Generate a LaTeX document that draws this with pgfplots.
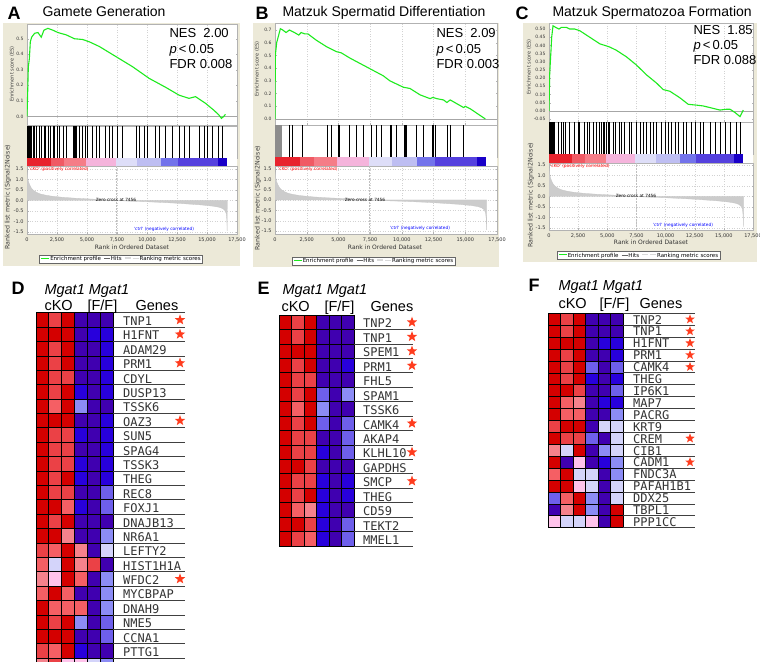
\documentclass[border=0pt]{standalone}
\usepackage{pgfplots}
\pgfplotsset{compat=1.18}
\usepackage{pgfplotstable}
\usepackage{fontspec}
\setmainfont{Liberation Sans}
\newfontfamily\dejavu{DejaVu Sans}
\newfontfamily\mono{DejaVu Sans Mono}
\usetikzlibrary{shapes.geometric}

\definecolor{beige}{RGB}{236,233,216}
\definecolor{esgreen}{RGB}{30,235,30}
\definecolor{starred}{RGB}{255,60,30}
\definecolor{cb1}{RGB}{232,35,45}
\definecolor{cb2}{RGB}{240,90,100}
\definecolor{cb3}{RGB}{245,125,135}
\definecolor{cb4}{RGB}{245,180,220}
\definecolor{cb5}{RGB}{222,222,248}
\definecolor{cb6}{RGB}{190,190,242}
\definecolor{cb7}{RGB}{115,115,235}
\definecolor{cb8}{RGB}{85,65,222}
\definecolor{cb9}{RGB}{25,0,200}

% ---------- data ----------
\pgfplotstableread{
r v
0 0
55 0.15
111 0.32
194 0.37
277 0.48
387 0.51
636 0.535
912 0.54
1189 0.51
1410 0.555
1742 0.567
2157 0.555
2571 0.54
3263 0.525
3954 0.50
4645 0.495
5198 0.48
6028 0.45
7410 0.385
8793 0.32
10175 0.245
11558 0.187
12664 0.137
13493 0.116
14046 0.127
14876 0.084
15567 0.04
15982 0.01
16203 -0.013
16396 0
16535 0.013
}\esA

\pgfplotstableread{
r v
0 0
26 0.5
132 0.6
290 0.66
423 0.71
608 0.70
872 0.68
1136 0.70
1532 0.68
1876 0.66
2060 0.68
2324 0.67
2588 0.67
3249 0.62
4041 0.57
4833 0.53
5229 0.52
5889 0.48
7210 0.41
8530 0.34
9059 0.30
10115 0.25
10643 0.24
11435 0.19
12228 0.16
12439 0.17
12756 0.16
13284 0.15
13548 0.13
13812 0.15
14869 0.09
15001 0.10
15397 0.08
16585 0.0
}\esB

\pgfplotstableread{
r v
0 0
57 0.22
115 0.30
172 0.37
229 0.45
344 0.52
573 0.51
859 0.50
1060 0.51
1489 0.51
1776 0.50
2205 0.50
2635 0.49
3494 0.45
4353 0.41
5212 0.39
5785 0.37
6645 0.33
7504 0.28
8363 0.22
9222 0.17
9795 0.13
10368 0.12
11227 0.08
11943 0.04
12659 0.035
13232 0.03
13805 0.02
14664 0.005
15237 0.01
15523 0.01
15953 -0.01
16382 -0.035
16669 0.005
}\esC

\pgfplotstableread{
r v
0 1.35
50 1.1
120 0.9
220 0.75
350 0.6
500 0.5
750 0.4
1050 0.32
1500 0.26
2000 0.21
3000 0.15
4000 0.11
5000 0.08
6000 0.05
7000 0.02
7456 0
8500 -0.03
10000 -0.06
11500 -0.1
12500 -0.13
13500 -0.17
14500 -0.21
15500 -0.27
16000 -0.32
16300 -0.38
16500 -0.48
16600 -0.62
16650 -0.9
16680 -1.45
16690 0
}\metric

% heatmaps: codes 0 (indigo) ... 9 (dark red)
\pgfplotstableread{
g c0 c1 c2 c3 c4 c5
TNP1 9 8 9 0 0 0
H1FNT 9 9 9 0 1 1
ADAM29 9 8 9 0 0 1
PRM1 9 8 9 0 0 1
CDYL 9 8 8 0 0 1
DUSP13 9 8 9 1 0 1
TSSK6 9 7 9 3 0 0
OAZ3 9 9 9 0 0 1
SUN5 9 8 8 1 0 1
SPAG4 9 8 8 0 0 1
TSSK3 9 8 8 1 0 1
THEG 9 8 9 1 0 1
REC8 9 8 8 0 0 2
FOXJ1 9 9 7 1 0 2
DNAJB13 9 8 9 0 0 0
NR6A1 9 9 6 0 0 3
LEFTY2 8 7 9 6 0 4
HIST1H1A 7 4 9 6 8 0
WFDC2 6 5 9 7 0 3
MYCBPAP 7 9 7 0 0 3
DNAH9 9 7 7 7 0 3
NME5 9 8 9 3 0 2
CCNA1 9 9 9 0 0 2
PTTG1 8 7 9 1 0 0
X 6 8 5 5 4 3
}\tabD

\pgfplotstableread{
g c0 c1 c2 c3 c4 c5
TNP2 9 8 9 0 0 0
TNP1 9 8 9 0 0 0
SPEM1 9 9 9 0 0 0
PRM1 9 8 9 0 0 1
FHL5 9 8 8 0 0 0
SPAM1 9 8 9 2 0 3
TSSK6 9 7 9 3 0 0
CAMK4 9 8 9 2 0 2
AKAP4 9 8 8 0 0 2
KLHL10 9 8 8 1 0 2
GAPDHS 9 9 8 0 0 0
SMCP 9 8 8 1 0 1
THEG 9 8 9 1 0 1
CD59 9 7 6 1 0 0
TEKT2 9 9 8 1 0 2
MMEL1 9 8 7 1 0 2
}\tabE

\pgfplotstableread{
g c0 c1 c2 c3 c4 c5
TNP2 9 8 9 0 0 0
TNP1 9 8 9 0 0 0
H1FNT 9 9 9 0 1 1
PRM1 9 8 9 0 0 1
CAMK4 9 8 9 2 0 2
THEG 9 8 9 1 0 1
IP6K1 9 9 8 0 0 2
MAP7 9 7 6 0 1 1
PACRG 9 7 7 0 0 3
KRT9 8 9 9 0 4 4
CREM 9 8 8 2 0 4
CIB1 6 4 9 0 3 4
CADM1 9 0 5 0 1 3
FNDC3A 7 9 4 4 0 3
PAFAH1B1 9 9 5 4 0 4
DDX25 2 7 9 3 0 4
TBPL1 0 6 9 3 0 9
PPP1CC 5 4 4 5 0 9
}\tabF

% ---------- styles ----------
\pgfplotsset{
  gsea/.style={scale only axis, xmin=0, xmax=17500,
    scaled x ticks=false, scaled y ticks=false,
    axis background/.style={fill=white},
    axis line style={gray!60, line width=0.4pt},
    tick style={gray!60, line width=0.3pt}, major tick length=1.5pt,
    tick label style={font=\dejavu\fontsize{4.5}{5}\selectfont, text=black!80},
    /pgf/number format/assume math mode=true},
  esaxis/.style={gsea, xtick={0,2500,5000,7500,10000,12500,15000,17500}, xticklabels={},
    xmajorgrids, grid style={dash pattern=on 1pt off 1.5pt, gray!35, line width=0.3pt},
    yticklabel style={/pgf/number format/fixed, /pgf/number format/fixed zerofill, /pgf/number format/precision=1}},
  hitaxis/.style={gsea, ymin=0, ymax=1, xtick=\empty, ytick=\empty},
  baraxis/.style={gsea, ymin=0, ymax=1, xtick=\empty, ytick=\empty, axis line style={draw=none}},
  rankaxis/.style={gsea, ytick={-1.5,-1,-0.5,0,0.5,1,1.5},
    xtick={0,2500,5000,7500,10000,12500,15000,17500},
    xticklabels={0,{2,500},{5,000},{7,500},{10,000},{12,500},{15,000},{17,500}},
    tick label style={font=\dejavu\fontsize{5}{5}\selectfont, text=black!80},
    grid=major, grid style={dash pattern=on 1pt off 1.5pt, gray!35, line width=0.3pt},
    yticklabel style={/pgf/number format/fixed, /pgf/number format/fixed zerofill, /pgf/number format/precision=1}},
  hm/.style={scale only axis, hide axis, clip=false, xmin=-0.5, xmax=5.5, y dir=reverse,
    colormap={gseahm}{rgb255=(64,0,176) rgb255=(40,0,220) rgb255=(110,95,235) rgb255=(140,140,245)
      rgb255=(212,212,250) rgb255=(255,195,235) rgb255=(245,130,140) rgb255=(245,95,100)
      rgb255=(235,65,70) rgb255=(212,0,0)},
    point meta min=0, point meta max=9},
}
\newcommand{\seg}[3]{\addplot[fill=#3, draw=none] coordinates {(#1,1)(#2,1)} \closedcycle;}
\newcommand{\colorbarsegs}{%
  \seg{0}{2000}{cb1}\seg{2000}{3100}{cb2}\seg{3100}{4900}{cb3}\seg{4900}{7400}{cb4}%
  \seg{7400}{9200}{cb5}\seg{9200}{11200}{cb6}\seg{11200}{12600}{cb7}\seg{12600}{15900}{cb8}%
  \seg{15900}{16650}{cb9}}
\newcommand{\gsealegend}{\textcolor{esgreen}{\rule[0.55ex]{8pt}{1.2pt}}\,Enrichment profile\hspace{3pt}\textcolor{black!60}{\rule[0.55ex]{6pt}{0.6pt}}\,Hits\hspace{3pt}\textcolor{gray!30}{\rule[0.55ex]{6pt}{1.5pt}}\hspace{2pt}\textcolor{gray!30}{\rule[0.55ex]{6pt}{1pt}}\,Ranking metric scores}
\newcommand{\smallfont}{\dejavu\fontsize{4.3}{5}\selectfont}
\newcommand{\genefont}{\mono\fontsize{12}{12}\selectfont}
\tikzset{hstar/.style={star, star points=5, star point ratio=2.4, fill=starred, draw=none, inner sep=0pt, minimum size=11pt}}

\begin{document}
\begin{tikzpicture}[x=1pt,y=1pt]
\useasboundingbox (0,0) rectangle (760,661);
\fill[beige] (3,395) rectangle (240,638);
\fill[beige] (253,394) rectangle (499,638);
\fill[beige] (523,399) rectangle (757,638);

% ================= Panel A =================
\begin{axis}[esaxis, at={(27pt,535.3pt)}, anchor=south west, width=210pt, height=101.7pt,
  ymin=-0.06, ymax=0.595, ytick={0,0.1,0.2,0.3,0.4,0.5}]
\addplot[gray!70, line width=0.4pt] coordinates {(0,0)(17500,0)};
\addplot[esgreen, line width=1.1pt] table[x=r,y=v]{\esA};
\end{axis}
\begin{axis}[hitaxis, at={(27pt,503pt)}, anchor=south west, width=210pt, height=32pt]
\addplot[ycomb, black, line width=0.6pt, mark=none] coordinates {(20,1)(45,1)(70,1)(95,1)(125,1)(160,1)(200,1)(250,1)(300,1)(360,1)(498,1)(636,1)(774,1)(995,1)(1189,1)(1410,1)(1548,1)(1742,1)(1935,1)(2157,1)(2295,1)(2488,1)(2654,1)(2986,1)(3263,1)(3871,1)(3954,1)(4037,1)(4148,1)(4369,1)(4645,1)(4866,1)(5005,1)(5419,1)(5751,1)(6028,1)(6525,1)(6857,1)(7134,1)(7549,1)(7963,1)(9069,1)(9346,1)(9816,1)(10037,1)(10728,1)(11005,1)(11558,1)(12111,1)(12664,1)(13078,1)(13493,1)(14323,1)(14738,1)(15014,1)(15429,1)(15982,1)(16258,1)};
\end{axis}
\begin{axis}[baraxis, at={(27pt,495pt)}, anchor=south west, width=210pt, height=8pt]
\colorbarsegs
\end{axis}
\begin{axis}[rankaxis, at={(27pt,427pt)}, anchor=south west, width=210pt, height=68pt, ymin=-1.595, ymax=1.643]
\addplot[fill=gray!40, draw=gray!45, line width=0.3pt] table[x=r,y=v]{\metric} \closedcycle;
\addplot[gray!50, dash pattern=on 1.5pt off 1.5pt, line width=0.4pt] coordinates {(7456,-1.595)(7456,1.643)};
\end{axis}
\node[anchor=north west, font=\smallfont, text=red, inner sep=0] at (29,494) {'cKO' (positively correlated)};
\node[font=\smallfont, inner sep=0] at (116,461) {Zero cross at 7456};
\node[font=\smallfont, text=blue, inner sep=0] at (164,432) {'ctrl' (negatively correlated)};
\node[font=\dejavu\fontsize{6}{6}\selectfont, text=black!80] at (132,414) {Rank in Ordered Dataset};
\node[rotate=90, font=\dejavu\fontsize{5}{5}\selectfont, text=black!75] at (12,587) {Enrichment score (ES)};
\node[rotate=90, font=\dejavu\fontsize{6.3}{6.3}\selectfont, text=black!75] at (8,464) {Ranked list metric (Signal2Noise)};
\node[draw=black!60, fill=white, line width=0.4pt, inner xsep=2pt, inner ysep=1.5pt, font=\dejavu\fontsize{5.5}{6}\selectfont] at (121,402) {\gsealegend};
\node[anchor=base west, font=\bfseries\fontsize{18}{18}\selectfont] at (4,641) {A};
\node[anchor=base west, font=\fontsize{14}{14}\selectfont] at (39,644) {Gamete Generation};
\node[anchor=base west, font=\fontsize{13}{13}\selectfont] at (166,623) {NES\hspace{0.55em}2.00};
\node[anchor=base west, font=\fontsize{13}{13}\selectfont] at (166,607.5) {\textit{p}\,<\,0.05};
\node[anchor=base west, font=\fontsize{13}{13}\selectfont] at (166,592) {FDR 0.008};

% ================= Panel B =================
\begin{axis}[esaxis, at={(275pt,536pt)}, anchor=south west, width=222pt, height=102pt,
  ymin=-0.047, ymax=0.755, ytick={0,0.1,0.2,0.3,0.4,0.5,0.6,0.7}]
\addplot[gray!70, line width=0.4pt] coordinates {(0,0)(17500,0)};
\addplot[esgreen, line width=1.1pt] table[x=r,y=v]{\esB};
\end{axis}
\begin{axis}[hitaxis, at={(275pt,504pt)}, anchor=south west, width=222pt, height=32pt]
\addplot[ycomb, black!45, line width=0.6pt, mark=none] coordinates {(0,1)(30,1)(60,1)(90,1)(120,1)(150,1)(180,1)(210,1)(240,1)(270,1)(300,1)(330,1)(360,1)(400,1)(440,1)(475,1)};
\addplot[ycomb, black, line width=0.6pt, mark=none] coordinates {(1136,1)(1400,1)(2139,1)(4094,1)(4437,1)(4965,1)(5097,1)(5889,1)(6418,1)(6946,1)(7606,1)(7950,1)(8398,1)(9059,1)(9191,1)(9587,1)(10168,1)(10247,1)(10379,1)(11171,1)(11699,1)(12360,1)(12439,1)(12624,1)(13548,1)(13812,1)(14869,1)};
\end{axis}
\begin{axis}[baraxis, at={(275pt,495pt)}, anchor=south west, width=222pt, height=9pt]
\colorbarsegs
\end{axis}
\begin{axis}[rankaxis, at={(275pt,427pt)}, anchor=south west, width=222pt, height=68pt, ymin=-1.645, ymax=1.645]
\addplot[fill=gray!40, draw=gray!45, line width=0.3pt] table[x=r,y=v]{\metric} \closedcycle;
\addplot[gray!50, dash pattern=on 1.5pt off 1.5pt, line width=0.4pt] coordinates {(7456,-1.645)(7456,1.645)};
\end{axis}
\node[anchor=north west, font=\smallfont, text=red, inner sep=0] at (278,494) {'cKO' (positively correlated)};
\node[font=\smallfont, inner sep=0] at (365,461) {Zero cross at 7456};
\node[font=\smallfont, text=blue, inner sep=0] at (420,433) {'ctrl' (negatively correlated)};
\node[font=\dejavu\fontsize{6}{6}\selectfont, text=black!80] at (385,414) {Rank in Ordered Dataset};
\node[rotate=90, font=\dejavu\fontsize{5}{5}\selectfont, text=black!75] at (257,592) {Enrichment score (ES)};
\node[rotate=90, font=\dejavu\fontsize{6.3}{6.3}\selectfont, text=black!75] at (258,463) {Ranked list metric (Signal2Noise)};
\node[draw=black!60, fill=white, line width=0.4pt, inner xsep=2pt, inner ysep=1.5pt, font=\dejavu\fontsize{5.5}{6}\selectfont] at (373.5,400) {\gsealegend};
\node[anchor=base west, font=\bfseries\fontsize{18}{18}\selectfont] at (252,641) {B};
\node[anchor=base west, font=\fontsize{14}{14}\selectfont] at (279,644) {Matzuk Spermatid Differentiation};
\node[anchor=base west, font=\fontsize{13}{13}\selectfont] at (433,623) {NES\hspace{0.55em}2.09};
\node[anchor=base west, font=\fontsize{13}{13}\selectfont] at (433,607.5) {\textit{p}\,<\,0.05};
\node[anchor=base west, font=\fontsize{13}{13}\selectfont] at (433,592) {FDR 0.003};

% ================= Panel C =================
\begin{axis}[esaxis, at={(549pt,539pt)}, anchor=south west, width=204pt, height=99pt,
  ymin=-0.068, ymax=0.537, ytick={-0.05,0,0.05,0.1,0.15,0.2,0.25,0.3,0.35,0.4,0.45,0.5},
  yticklabel style={/pgf/number format/precision=2}]
\addplot[gray!70, line width=0.4pt] coordinates {(0,0)(17500,0)};
\addplot[esgreen, line width=1.1pt] table[x=r,y=v]{\esC};
\end{axis}
\begin{axis}[hitaxis, at={(549pt,507pt)}, anchor=south west, width=204pt, height=32pt]
\addplot[ycomb, black, line width=0.6pt, mark=none] coordinates {(0,1)(30,1)(60,1)(86,1)(120,1)(172,1)(210,1)(258,1)(300,1)(344,1)(430,1)(773,1)(1060,1)(1203,1)(1432,1)(1776,1)(2205,1)(2492,1)(2635,1)(3064,1)(3265,1)(3494,1)(3780,1)(4067,1)(4353,1)(4496,1)(4640,1)(4783,1)(4926,1)(5069,1)(5212,1)(5499,1)(5728,1)(6072,1)(6215,1)(6501,1)(6874,1)(7074,1)(7504,1)(7790,1)(8077,1)(8363,1)(8650,1)(8936,1)(9222,1)(9652,1)(9938,1)(10225,1)(10511,1)(10797,1)(11084,1)(11513,1)(11800,1)(12229,1)(12516,1)(12946,1)(13232,1)(13805,1)(14234,1)(14664,1)(15093,1)(15523,1)(16096,1)(16382,1)};
\end{axis}
\begin{axis}[baraxis, at={(549pt,498pt)}, anchor=south west, width=204pt, height=9pt]
\colorbarsegs
\end{axis}
\begin{axis}[rankaxis, at={(549pt,431pt)}, anchor=south west, width=204pt, height=67pt, ymin=-1.595, ymax=1.595]
\addplot[fill=gray!40, draw=gray!45, line width=0.3pt] table[x=r,y=v]{\metric} \closedcycle;
\addplot[gray!50, dash pattern=on 1.5pt off 1.5pt, line width=0.4pt] coordinates {(7456,-1.595)(7456,1.595)};
\end{axis}
\node[anchor=north west, font=\smallfont, text=red, inner sep=0] at (550,497) {'cKO' (positively correlated)};
\node[font=\smallfont, inner sep=0] at (636,465) {Zero cross at 7456};
\node[font=\smallfont, text=blue, inner sep=0] at (683,436) {'ctrl' (negatively correlated)};
\node[font=\dejavu\fontsize{6}{6}\selectfont, text=black!80] at (651,419) {Rank in Ordered Dataset};
\node[rotate=90, font=\dejavu\fontsize{5}{5}\selectfont, text=black!75] at (529,594) {Enrichment score (ES)};
\node[rotate=90, font=\dejavu\fontsize{6.3}{6.3}\selectfont, text=black!75] at (531,466) {Ranked list metric (Signal2Noise)};
\node[draw=black!60, fill=white, line width=0.4pt, inner xsep=2pt, inner ysep=1.5pt, font=\dejavu\fontsize{5.5}{6}\selectfont] at (638.5,405.5) {\gsealegend};
\node[anchor=base west, font=\bfseries\fontsize{18}{18}\selectfont] at (512,641) {C};
\node[anchor=base west, font=\fontsize{14}{14}\selectfont] at (549,644) {Matzuk Spermatozoa Formation};
\node[anchor=base west, font=\fontsize{13}{13}\selectfont] at (690,626) {NES\hspace{0.55em}1.85};
\node[anchor=base west, font=\fontsize{13}{13}\selectfont] at (690,611) {\textit{p}\,<\,0.05};
\node[anchor=base west, font=\fontsize{13}{13}\selectfont] at (690,596) {FDR 0.088};

% ================= Heatmap D =================
\begin{axis}[hm, at={(36pt,348.3pt)}, anchor=north west, width=77pt, height=359.75pt, ymin=-0.5, ymax=24.5]
\pgfplotsinvokeforeach{0,...,5}{
\addplot[scatter, only marks, mark=square*, mark size=6.42pt, point meta=explicit,
  scatter/use mapped color={draw=black, fill=mapped color},
  mark options={yscale=1.121, line width=0.7pt}]
  table[x expr=#1, y expr=\coordindex, meta=c#1]{\tabD};
}
\end{axis}
\draw[black!75, line width=0.7pt] (113,348.3) -- (185,348.3);
\foreach \g [count=\i from 0] in {TNP1,H1FNT,ADAM29,PRM1,CDYL,DUSP13,TSSK6,OAZ3,SUN5,SPAG4,TSSK3,THEG,REC8,FOXJ1,DNAJB13,NR6A1,LEFTY2,HIST1H1A,WFDC2,MYCBPAP,DNAH9,NME5,CCNA1,PTTG1}{
  \node[anchor=base west, font=\genefont, text=black!80, inner sep=0] at (123,{348.3-(\i+1)*14.39+1.5}) {\g};
  \draw[black!75, line width=0.7pt] (113,{348.3-(\i+1)*14.39}) -- (185,{348.3-(\i+1)*14.39});
}
\foreach \i in {0,1,3,7,18}{\node[hstar] at (180,{348.3-(\i+0.5)*14.39}) {};}
\node[anchor=base west, font=\bfseries\fontsize{18}{18}\selectfont] at (8,366) {D};
\node[anchor=base west, font=\itshape\fontsize{14.5}{14.5}\selectfont] at (41,366) {Mgat1 Mgat1};
\node[anchor=base west, font=\fontsize{14.5}{14.5}\selectfont] at (41,350.5) {cKO};
\node[anchor=base west, font=\fontsize{14.5}{14.5}\selectfont] at (84,350.5) {[F/F]};
\node[anchor=base west, font=\fontsize{14.5}{14.5}\selectfont] at (132,350.5) {Genes};

% ================= Heatmap E =================
\begin{axis}[hm, at={(279pt,346pt)}, anchor=north west, width=75pt, height=231pt, ymin=-0.5, ymax=15.5]
\pgfplotsinvokeforeach{0,...,5}{
\addplot[scatter, only marks, mark=square*, mark size=6.25pt, point meta=explicit,
  scatter/use mapped color={draw=black, fill=mapped color},
  mark options={yscale=1.155, line width=0.7pt}]
  table[x expr=#1, y expr=\coordindex, meta=c#1]{\tabE};
}
\end{axis}
\foreach \g [count=\i from 0] in {TNP2,TNP1,SPEM1,PRM1,FHL5,SPAM1,TSSK6,CAMK4,AKAP4,KLHL10,GAPDHS,SMCP,THEG,CD59,TEKT2,MMEL1}{
  \node[anchor=base west, font=\genefont, text=black!80, inner sep=0] at (363,{346-(\i+1)*14.44+1.5}) {\g};
  \draw[black!75, line width=0.7pt] (354,{346-(\i+1)*14.44}) -- (413,{346-(\i+1)*14.44});
}
\foreach \i in {0,1,2,3,7,9,11}{\node[hstar] at (412,{346-(\i+0.5)*14.44}) {};}
\node[anchor=base west, font=\bfseries\fontsize{18}{18}\selectfont] at (254,366) {E};
\node[anchor=base west, font=\itshape\fontsize{14.5}{14.5}\selectfont] at (279,366) {Mgat1 Mgat1};
\node[anchor=base west, font=\fontsize{14.5}{14.5}\selectfont] at (278,349.5) {cKO};
\node[anchor=base west, font=\fontsize{14.5}{14.5}\selectfont] at (321,349.5) {[F/F]};
\node[anchor=base west, font=\fontsize{14.5}{14.5}\selectfont] at (367,349.5) {Genes};

% ================= Heatmap F =================
\begin{axis}[hm, at={(548pt,347.7pt)}, anchor=north west, width=75pt, height=214.4pt, ymin=-0.5, ymax=17.5]
\pgfplotsinvokeforeach{0,...,5}{
\addplot[scatter, only marks, mark=square*, mark size=6.25pt, point meta=explicit,
  scatter/use mapped color={draw=black, fill=mapped color},
  mark options={yscale=0.953, line width=0.7pt}]
  table[x expr=#1, y expr=\coordindex, meta=c#1]{\tabF};
}
\end{axis}
\draw[black!75, line width=0.7pt] (623,347.7) -- (695,347.7);
\foreach \g [count=\i from 0] in {TNP2,TNP1,H1FNT,PRM1,CAMK4,THEG,IP6K1,MAP7,PACRG,KRT9,CREM,CIB1,CADM1,FNDC3A,PAFAH1B1,DDX25,TBPL1,PPP1CC}{
  \node[anchor=base west, font=\genefont, text=black!80, inner sep=0] at (633,{347.7-(\i+1)*11.91+1.2}) {\g};
  \draw[black!75, line width=0.7pt] (623,{347.7-(\i+1)*11.91}) -- (695,{347.7-(\i+1)*11.91});
}
\foreach \i in {0,1,2,3,4,10,12}{\node[hstar, minimum size=10pt] at (690,{347.7-(\i+0.5)*11.91}) {};}
\node[anchor=base west, font=\bfseries\fontsize{18}{18}\selectfont] at (525,369) {F};
\node[anchor=base west, font=\itshape\fontsize{14.5}{14.5}\selectfont] at (555,370) {Mgat1 Mgat1};
\node[anchor=base west, font=\fontsize{14.5}{14.5}\selectfont] at (555,352) {cKO};
\node[anchor=base west, font=\fontsize{14.5}{14.5}\selectfont] at (596,352) {[F/F]};
\node[anchor=base west, font=\fontsize{14.5}{14.5}\selectfont] at (636,352) {Genes};
\end{tikzpicture}
\end{document}
